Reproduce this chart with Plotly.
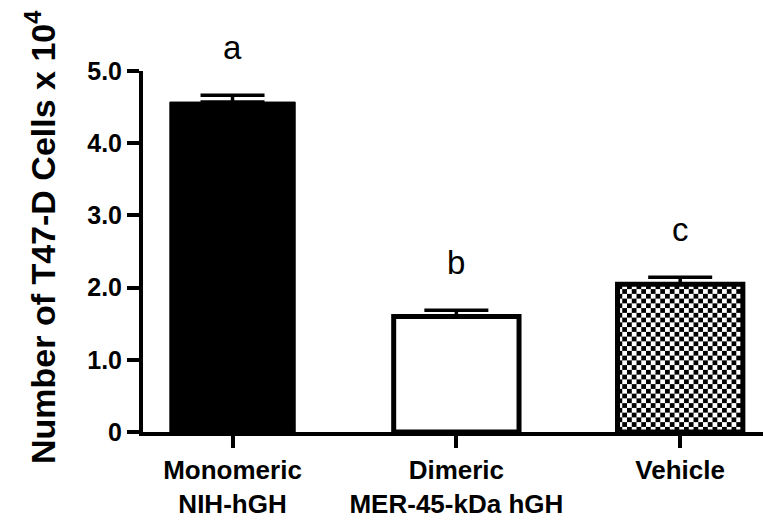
import base64
import plotly.graph_objects as go

# ---- data ----
categories = ["Monomeric<br>NIH-hGH", "Dimeric<br>MER-45-kDa hGH", "Vehicle"]
cell_counts = [4.57, 1.60, 2.045]
sem_values = [0.095, 0.085, 0.10]
group_letters = ["a", "b", "c"]
y_tick_vals = [0, 1, 2, 3, 4, 5]
y_tick_text = ["0", "1.0", "2.0", "3.0", "4.0", "5.0"]
y_title = "Number of T47-D Cells x 10<sup>4</sup>"

# ---- geometry / style ----
W, H = 763, 525
ML, MR, MT, MB = 143, 0, 71, 93
XR = [-0.4, 2.37]
YR = [0, 5]
BAR_W = 0.56
FONT = "Liberation Sans, Arial, Helvetica, sans-serif"

fills = ["black", "white", "rgba(0,0,0,0)"]
line_w = [1, 5, 5]

fig = go.Figure()
fig.add_trace(go.Bar(
    x=categories,
    y=cell_counts,
    width=BAR_W,
    marker=dict(color=fills, line=dict(color="black", width=line_w)),
    error_y=dict(type="data", symmetric=False, array=sem_values,
                 arrayminus=[0] * len(sem_values),
                 color="black", thickness=3.5, width=32),
    showlegend=False,
    hoverinfo="skip",
))

# checkerboard texture for the vehicle bar (image sized to the bar through axes)
plot_w = W - ML - MR
plot_h = H - MT - MB
px_x = plot_w / (XR[1] - XR[0])
px_y = plot_h / (YR[1] - YR[0])
vi = 2
bw_px = BAR_W * px_x
bh_px = cell_counts[vi] * px_y
cell = 4.75
svg = (
    f'<svg xmlns="http://www.w3.org/2000/svg" width="{bw_px:.1f}" height="{bh_px:.1f}" '
    f'viewBox="0 0 {bw_px:.1f} {bh_px:.1f}" preserveAspectRatio="none">'
    f'<defs><pattern id="c" width="{2*cell}" height="{2*cell}" patternUnits="userSpaceOnUse">'
    f'<rect width="{cell}" height="{cell}" fill="black"/>'
    f'<rect x="{cell}" y="{cell}" width="{cell}" height="{cell}" fill="black"/>'
    f'</pattern></defs>'
    f'<rect width="100%" height="100%" fill="white"/>'
    f'<rect width="100%" height="100%" fill="url(#c)"/></svg>'
)
src = "data:image/svg+xml;base64," + base64.b64encode(svg.encode()).decode()
fig.add_layout_image(dict(
    source=src, xref="x", yref="y",
    x=vi - BAR_W / 2, y=cell_counts[vi],
    sizex=BAR_W, sizey=cell_counts[vi],
    xanchor="left", yanchor="top", sizing="stretch", layer="below",
))

for cat, v, e, lt in zip(categories, cell_counts, sem_values, group_letters):
    fig.add_annotation(x=cat, y=v + e, text=lt, showarrow=False,
                       yanchor="bottom", yshift=27,
                       font=dict(family=FONT, size=33, color="black"))

# y-axis title as a rotated annotation (placed a little above the plot centre, as in the reference)
fig.add_annotation(
    xref="paper", yref="paper",
    x=(40 - ML) / plot_w, y=(H - MB - 237) / plot_h,
    xanchor="center", yanchor="middle",
    text=y_title, textangle=-90, showarrow=False,
    font=dict(family=FONT, size=34, color="black", weight="bold"),
)

fig.update_layout(
    width=W, height=H, autosize=False,
    margin=dict(l=ML, r=MR, t=MT, b=MB, pad=0),
    paper_bgcolor="white", plot_bgcolor="white",
    font=dict(family=FONT, color="black"),
    bargap=0.44,
)
fig.update_xaxes(
    range=XR, showgrid=False, zeroline=False,
    showline=True, linecolor="black", linewidth=4,
    ticks="outside", ticklen=12, tickwidth=4, tickcolor="black",
    tickfont=dict(family=FONT, size=26, color="black", weight="bold"),
)
fig.update_yaxes(
    range=YR, showgrid=False, zeroline=False,
    showline=True, linecolor="black", linewidth=4,
    ticks="outside", ticklen=12, tickwidth=4, tickcolor="black",
    tickvals=y_tick_vals, ticktext=y_tick_text,
    tickfont=dict(family=FONT, size=25, color="black", weight="bold"),
)

fig.write_html("out.html",
               config={"displayModeBar": False, "staticPlot": True},
               post_script="document.body.style.margin='0';document.body.style.overflow='hidden';")
